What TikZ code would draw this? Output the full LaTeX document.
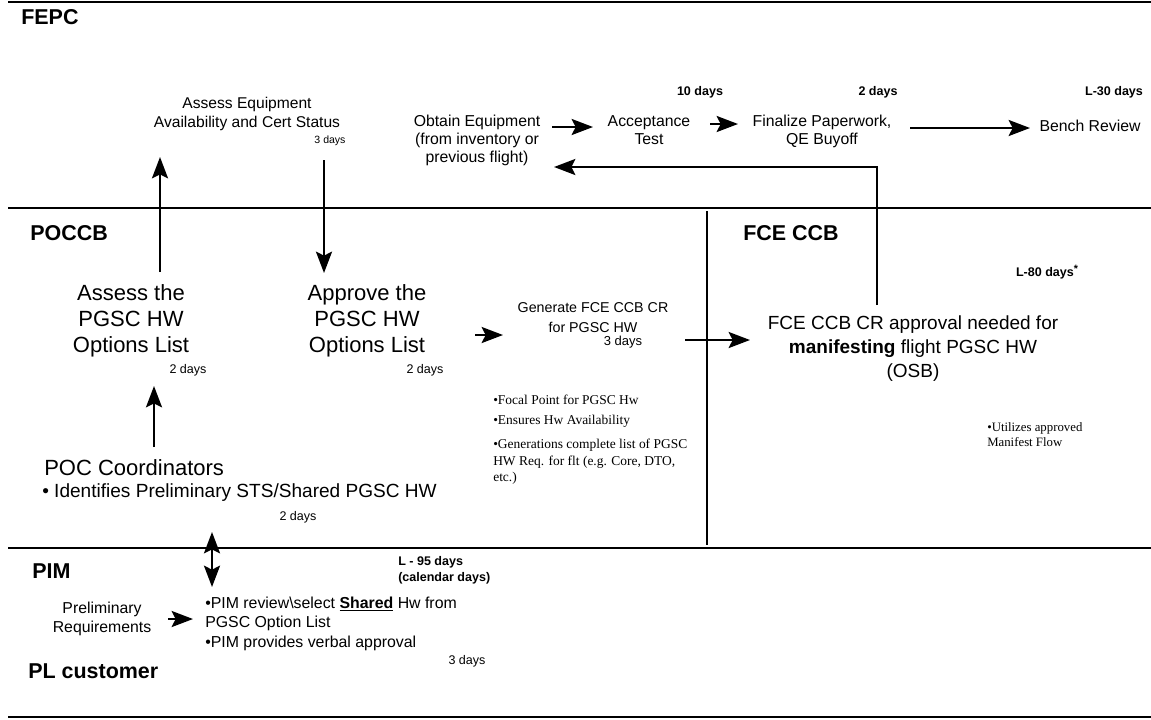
\documentclass[tikz,border=0pt]{standalone}
\usepackage{fontspec}
\setmainfont{Liberation Sans}
\newfontfamily\seriffont{Liberation Serif}
\usetikzlibrary{arrows.meta}
\newcommand\fsz[2]{\fontsize{#1}{#2}\selectfont}

\begin{document}
\begin{tikzpicture}[x=0.75pt,y=-0.75pt,
  lane/.style={line width=2pt},
  arr/.style={line width=1.9pt,line join=miter,-{Stealth[length=16pt,width=12pt,inset=3pt]}},
  darr/.style={line width=1.9pt,{Stealth[length=16pt,width=12pt,inset=3pt]}-{Stealth[length=16pt,width=12pt,inset=3pt]}},
  title/.style={font=\bfseries\fsz{16.1pt}{19pt},anchor=base west,inner sep=0pt},
  lbl/.style={font=\fsz{11.85pt}{13.5pt},align=center,inner sep=0pt},
  big/.style={font=\fsz{16.5pt}{19.5pt},align=center,inner sep=0pt},
  bdays/.style={font=\bfseries\fsz{9.4pt}{11.5pt},inner sep=0pt},
  days/.style={font=\fsz{9.4pt}{11pt},inner sep=0pt},
  ser/.style={font=\seriffont\fsz{10.1pt}{12.4pt},align=left,inner sep=0pt,anchor=west},
]
\useasboundingbox (0,0) rectangle (1151,719);

% swimlane lines
\draw[lane] (8,2) -- (1151,2);
\draw[lane] (8,208) -- (1151,208);
\draw[lane] (8,548) -- (1151,548);
\draw[lane] (8,717) -- (1151,717);
\draw[lane] (707,211) -- (707,545);

% lane titles
\node[title] (fepc) at (21,24) {FEPC};
\node[title] (poccb) at (30,240) {POCCB};
\node[title] (fceccb) at (743,240) {FCE CCB};
\node[title] (pim) at (32,578) {PIM};
\node[title] (plc) at (28,678) {PL customer};

% FEPC lane
\node[lbl,font=\fsz{11.7pt}{14.25pt}] (asseq) at (247,114) {Assess Equipment\\Availability and Cert Status};
\node[days,font=\fsz{7.9pt}{9pt}] (d3a) at (330,141) {3 days};
\node[lbl] (obtain) at (477,140) {Obtain Equipment\\(from inventory or\\previous flight)};
\node[lbl] (accept) at (649,130.5) {Acceptance\\Test};
\node[bdays] (d10) at (700,92) {10 days};
\node[lbl] (final) at (822,131) {Finalize Paperwork,\\QE Buyoff};
\node[bdays] (d2) at (878,92) {2 days};
\node[lbl] (bench) at (1090,126) {Bench Review};
\node[bdays] (l30) at (1114,92) {L-30 days};

% POCCB lane
\node[big] (assesspl) at (131,321) {Assess the\\PGSC HW\\Options List};
\node[days] (d2a) at (188,370) {2 days};
\node[big] (approve) at (367,321) {Approve the\\PGSC HW\\Options List};
\node[days] (d2b) at (425,370) {2 days};
\node[lbl,font=\fsz{10.7pt}{15pt}] (generate) at (593,318) {Generate FCE CCB CR\\for PGSC HW};
\node[days,font=\fsz{9.75pt}{11pt}] (d3g) at (623,342) {3 days};
\node[ser] (b1) at (493,400) {\textbullet Focal Point for PGSC Hw};
\node[ser] (b2) at (493,421) {\textbullet Ensures Hw Availability};
\node[ser] (b3) at (493,462) {\textbullet Generations complete list of PGSC\\HW Req. for flt (e.g. Core, DTO,\\etc.)};
\node[anchor=west,inner sep=0pt,font=\fsz{16.5pt}{19.5pt}] (poc) at (44,468) {POC Coordinators};
\node[anchor=west,inner sep=0pt,font=\fsz{14.3pt}{17pt}] (ident) at (42,493) {\textbullet\ Identifies Preliminary STS/Shared PGSC HW};
\node[days] (d2c) at (298,517) {2 days};

% FCE CCB lane
\node[font=\fsz{14.25pt}{18pt},align=center,inner sep=0pt] (fcecr) at (913,349) {FCE CCB CR approval needed for\\\textbf{manifesting} flight PGSC HW\\(OSB)};
\node[bdays] (l80) at (1047,272) {L-80 days\raisebox{3pt}{\fsz{8pt}{8pt}*}};
\node[ser,font=\seriffont\fsz{9.6pt}{11.25pt}] (util) at (987,434.5) {\textbullet Utilizes approved\\Manifest Flow};

% PIM lane
\node[bdays,align=left,anchor=west,font=\bfseries\fsz{9.4pt}{12pt}] (l95) at (398,570) {L - 95 days\\(calendar days)};
\node[lbl,font=\fsz{11.85pt}{14.25pt}] (prelim) at (102,618.5) {Preliminary\\Requirements};
\node[anchor=west,align=left,inner sep=0pt,font=\fsz{11.9pt}{14.6pt}] (pimrev) at (205,623.5) {\textbullet PIM review\textbackslash select \textbf{\underline{Shared}} Hw from\\PGSC Option List\\\textbullet PIM provides verbal approval};
\node[days] (d3p) at (467,661) {3 days};

% connector end points
\coordinate (upS) at (160,272);
\coordinate (upE) at (160,157);
\coordinate (dnS) at (324,160);
\coordinate (dnE) at (324,273);
\coordinate (obS) at (552,127);
\coordinate (obE) at (593,127);
\coordinate (acS) at (710,124);
\coordinate (acE) at (738,124);
\coordinate (fiS) at (910,128);
\coordinate (fiE) at (1030,128);
\coordinate (rtS) at (877,305);
\coordinate (rtC) at (877,167);
\coordinate (rtE) at (554,167);
\coordinate (apS) at (475,335);
\coordinate (apE) at (503,335);
\coordinate (geS) at (685,340);
\coordinate (geE) at (750,340);
\coordinate (pcS) at (154,447);
\coordinate (pcE) at (154,386);
\coordinate (dbS) at (212,532);
\coordinate (dbE) at (212,587);
\coordinate (prS) at (168,619);
\coordinate (prE) at (193,619);

% connectors
\draw[arr] (upS) -- (upE);
\draw[arr] (dnS) -- (dnE);
\draw[arr] (obS) -- (obE);
\draw[arr] (acS) -- (acE);
\draw[arr] (fiS) -- (fiE);
\draw[arr] (rtS) -- (rtC) -- (rtE);
\draw[arr] (apS) -- (apE);
\draw[arr] (geS) -- (geE);
\draw[arr] (pcS) -- (pcE);
\draw[darr] (dbS) -- (dbE);
\draw[arr] (prS) -- (prE);
\end{tikzpicture}
\end{document}
